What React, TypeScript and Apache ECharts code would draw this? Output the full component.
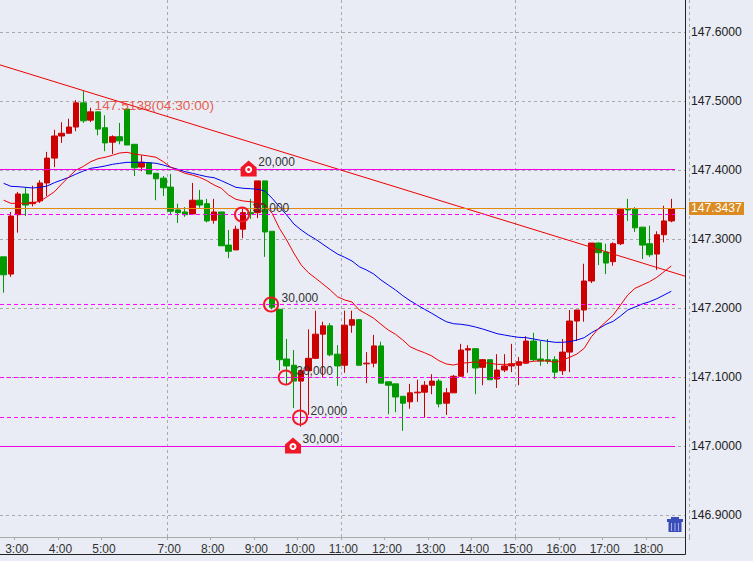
import React, { useEffect, useRef } from "react";
import * as echarts from "echarts";

const opens = [147.274,147.249,147.335,147.365,147.351,147.355,147.381,147.417,147.449,147.453,147.462,147.497,147.472,147.484,147.461,147.440,147.448,147.488,147.437,147.404,147.410,147.395,147.388,147.375,147.342,147.339,147.336,147.356,147.351,147.327,147.339,147.291,147.284,147.314,147.338,147.338,147.384,147.311,147.198,147.126,147.117,147.094,147.109,147.127,147.162,147.174,147.133,147.117,147.175,147.183,147.119,147.120,147.145,147.093,147.090,147.072,147.064,147.077,147.078,147.088,147.094,147.062,147.077,147.101,147.139,147.141,147.114,147.125,147.097,147.110,147.116,147.117,147.120,147.152,147.126,147.125,147.125,147.109,147.136,147.181,147.197,147.239,147.294,147.281,147.267,147.293,147.343,147.343,147.317,147.293,147.278,147.306,147.326];
const closes = [147.248,147.333,147.365,147.349,147.353,147.381,147.417,147.449,147.453,147.462,147.497,147.471,147.484,147.459,147.439,147.448,147.442,147.436,147.403,147.411,147.394,147.387,147.374,147.340,147.338,147.335,147.356,147.349,147.326,147.339,147.290,147.282,147.314,147.338,147.336,147.384,147.310,147.201,147.125,147.116,147.094,147.109,147.127,147.162,147.174,147.132,147.116,147.175,147.183,147.117,147.120,147.145,147.091,147.088,147.071,147.062,147.077,147.078,147.088,147.094,147.061,147.077,147.101,147.139,147.141,147.113,147.125,147.096,147.110,147.116,147.119,147.122,147.152,147.125,147.123,147.123,147.107,147.136,147.181,147.197,147.239,147.294,147.280,147.265,147.293,147.343,147.342,147.316,147.291,147.277,147.306,147.326,147.3437];
const lows = [147.222,147.245,147.309,147.333,147.347,147.352,147.362,147.404,147.439,147.453,147.456,147.468,147.469,147.450,147.427,147.423,147.437,147.436,147.391,147.398,147.394,147.356,147.362,147.335,147.323,147.332,147.336,147.345,147.324,147.322,147.290,147.272,147.284,147.301,147.329,147.330,147.274,147.198,147.109,147.088,147.055,147.028,147.045,147.126,147.100,147.130,147.087,147.106,147.164,147.116,147.091,147.114,147.091,147.046,147.049,147.022,147.054,147.064,147.041,147.075,147.056,147.045,147.077,147.101,147.106,147.075,147.088,147.096,147.084,147.107,147.107,147.088,147.119,147.123,147.116,147.119,147.097,147.103,147.107,147.152,147.180,147.236,147.262,147.249,147.261,147.291,147.326,147.310,147.271,147.274,147.255,147.295,147.324];
const highs = [147.274,147.339,147.368,147.375,147.377,147.385,147.426,147.458,147.469,147.474,147.501,147.514,147.490,147.484,147.479,147.450,147.468,147.488,147.437,147.421,147.410,147.395,147.391,147.394,147.351,147.346,147.381,147.371,147.358,147.358,147.339,147.313,147.319,147.345,147.358,147.384,147.384,147.311,147.198,147.155,147.139,147.109,147.169,147.196,147.180,147.178,147.146,147.196,147.196,147.184,147.136,147.161,147.151,147.093,147.090,147.072,147.090,147.096,147.094,147.104,147.097,147.084,147.103,147.148,147.146,147.141,147.126,147.125,147.133,147.133,147.148,147.129,147.159,147.164,147.152,147.155,147.130,147.155,147.197,147.197,147.264,147.294,147.295,147.293,147.295,147.345,147.358,147.346,147.317,147.319,147.311,147.348,147.358];

const maFast = [147.356,147.3515,147.3515,147.3515,147.3524,147.3544,147.3611,147.3683,147.3795,147.3901,147.3998,147.4051,147.4118,147.4161,147.4182,147.4211,147.4244,147.4254,147.4229,147.4215,147.42,147.4182,147.4118,147.4041,147.3993,147.395,147.3925,147.3892,147.3843,147.378,147.3733,147.3635,147.3573,147.3549,147.3538,147.3524,147.3491,147.337,147.3153,147.2984,147.2791,147.2622,147.251,147.2429,147.2346,147.226,147.2162,147.2115,147.2086,147.197,147.1912,147.185,147.1763,147.168,147.1618,147.1535,147.1438,147.139,147.1351,147.1304,147.1235,147.1188,147.1173,147.1198,147.1207,147.1217,147.1207,147.1198,147.1183,147.1183,147.1183,147.1198,147.1212,147.1227,147.1235,147.1231,147.1212,147.1246,147.1285,147.1333,147.1415,147.1583,147.1705,147.18,147.1897,147.2042,147.2187,147.2284,147.2332,147.238,147.2443,147.2525,147.2607];
const maSlow = [147.3805,147.3761,147.3756,147.3747,147.3737,147.3747,147.3766,147.3814,147.3853,147.3892,147.394,147.3983,147.4022,147.4037,147.4056,147.408,147.4095,147.4109,147.4109,147.4109,147.4104,147.4095,147.407,147.4037,147.4008,147.3973,147.395,147.3925,147.3901,147.3886,147.3843,147.3795,147.3747,147.3733,147.3727,147.3718,147.3693,147.3588,147.3466,147.3346,147.3215,147.3129,147.3056,147.2994,147.2921,147.2849,147.2781,147.2733,147.268,147.2597,147.2549,147.2491,147.2404,147.2332,147.226,147.2177,147.2105,147.2042,147.198,147.1922,147.1858,147.18,147.1771,147.1763,147.1748,147.1724,147.1695,147.1661,147.1627,147.1608,147.1589,147.1574,147.1569,147.155,147.1531,147.1516,147.1502,147.1502,147.1511,147.1535,147.1569,147.1641,147.1699,147.1763,147.1806,147.1883,147.197,147.2013,147.2057,147.209,147.2133,147.2187,147.2241];

const slotCount = 95;
const hourLabels = ["3:00","4:00","5:00","7:00","8:00","9:00","10:00","11:00","12:00","13:00","14:00","15:00","16:00","17:00","18:00"];
const hourSlots = [2,8,14,23,29,35,41,47,53,59,65,71,77,83,89];
const gridHours = ["7:00","11:00","15:00"];
const priceTicks = [146.9,147.0,147.1,147.2,147.3,147.4,147.5,147.6];

const solidLevels = [147.4005, 146.9993];
const dashedLevels = [147.3353, 147.205, 147.0992, 147.0413];
const lastPrice = 147.3437;
const lastPriceLine = 147.344;
const trendStart = 147.552;
const trendEnd = 147.246;
const levelEndSlot = 92.85;
const overlayMaxSlot = 94.22;

const circleMarks = [
  { slot: 33.29, price: 147.3353, label: "30,000" },
  { slot: 37.28, price: 147.205, label: "30,000" },
  { slot: 39.3, price: 147.0992, label: "30,000" },
  { slot: 41.27, price: 147.0413, label: "20,000" },
];
const houseMarks = [
  { slot: 34.2, price: 147.4005, label: "20,000" },
  { slot: 40.3, price: 146.9993, label: "30,000" },
];
const highNote = { slot: 13.0, price: 147.4939, text: "147.5138(04:30:00)" };

const BG = "#E9ECF4";
const RED = "#CC0000";
const GREEN = "#009900";
const MAGENTA = "#FF00FF";
const MAGENTA_SOLID = "#F000E8";
const MARK = "#F01828";
const FONT = "'Liberation Sans', Arial, sans-serif";
const YMIN = 146.8682;
const YMAX = 147.646;
const SLOT = 7.27;

const categories = Array.from({ length: slotCount }, (_, i) => {
  const k = hourSlots.indexOf(i);
  return k >= 0 ? hourLabels[k] : "";
});

const HOUSE = "path://M8,0 L16,7 L16,16 L0,16 L0,7 Z";

function buildOption(): any {
  const levelSeries = (price: number, color: string, type: any, width: number, end: number) => ({
    type: "line",
    xAxisIndex: 1,
    yAxisIndex: 1,
    data: [[0, price], [end, price]],
    showSymbol: false,
    silent: true,
    z: 4,
    lineStyle: { color, type, width },
  });
  return {
    animation: false,
    backgroundColor: BG,
    textStyle: { fontFamily: FONT },
    grid: [
      { left: -1.2, top: 0, width: slotCount * SLOT, height: 537 },
      { left: 0, top: 0, width: 685, height: 537 },
    ],
    xAxis: [
      {
        type: "category",
        gridIndex: 0,
        data: categories,
        axisLine: { show: false },
        axisTick: {
          show: true,
          length: 3,
          lineStyle: { color: "#AAAAAA" },
          interval: (_: number, v: string) => v !== "",
        },
        axisLabel: {
          interval: (_: number, v: string) => v !== "",
          color: "#333333",
          fontSize: 12,
          fontFamily: FONT,
          margin: 6,
          padding: [0, 2.6, 0, 0],
          hideOverlap: false,
        },
        splitLine: {
          show: true,
          interval: (_: number, v: string) => gridHours.includes(v),
          lineStyle: { color: "#AAAAAA", type: [3, 3], width: 1 },
        },
      },
      {
        type: "value",
        gridIndex: 1,
        min: 0,
        max: overlayMaxSlot,
        axisLine: { show: true, onZero: false, lineStyle: { color: "#AAAAAA" } },
        axisTick: { show: false },
        axisLabel: { show: false },
        splitLine: { show: false },
      },
    ],
    yAxis: [
      { type: "value", gridIndex: 0, min: YMIN, max: YMAX, show: false },
      {
        type: "value",
        gridIndex: 1,
        min: YMIN,
        max: YMAX,
        position: "right",
        axisLine: { show: false },
        axisTick: { show: false, customValues: priceTicks },
        axisLabel: {
          customValues: priceTicks,
          formatter: (v: number) => v.toFixed(4),
          color: "#222222",
          fontSize: 12.2,
          fontFamily: FONT,
          margin: 6,
        },
        splitLine: { show: true, lineStyle: { color: "#AAAAAA", type: [3, 3], width: 1 } },
      },
    ],
    series: [
      {
        type: "candlestick",
        xAxisIndex: 0,
        yAxisIndex: 0,
        barWidth: 6,
        z: 2,
        itemStyle: {
          color: RED,
          color0: GREEN,
          borderColor: RED,
          borderColor0: GREEN,
          borderWidth: 1,
        },
        data: opens.map((o, i) => [o, closes[i], lows[i], highs[i]]),
      },
      {
        type: "line",
        xAxisIndex: 0,
        yAxisIndex: 0,
        data: maSlow,
        showSymbol: false,
        z: 3,
        lineStyle: { color: "#0000EE", width: 1 },
      },
      {
        type: "line",
        xAxisIndex: 0,
        yAxisIndex: 0,
        data: maFast,
        showSymbol: false,
        z: 3,
        lineStyle: { color: "#EE0000", width: 1 },
      },
      {
        type: "line",
        xAxisIndex: 1,
        yAxisIndex: 1,
        data: [[0, trendStart], [overlayMaxSlot, trendEnd]],
        showSymbol: false,
        z: 4,
        lineStyle: { color: "#EE0000", width: 1 },
      },
      levelSeries(lastPriceLine, "#E08A10", "solid", 1, overlayMaxSlot),
      ...dashedLevels.map((p) => levelSeries(p, MAGENTA, [4, 3], 1, levelEndSlot)),
      levelSeries(solidLevels[0], MAGENTA_SOLID, "solid", 1, levelEndSlot),
      levelSeries(solidLevels[1], MAGENTA_SOLID, "solid", 1, levelEndSlot),
      {
        type: "scatter",
        xAxisIndex: 1,
        yAxisIndex: 1,
        z: 6,
        symbol: "circle",
        symbolSize: 14,
        itemStyle: { color: "rgba(0,0,0,0)", borderColor: MARK, borderWidth: 2, opacity: 1 },
        label: {
          show: true,
          position: "right",
          distance: 2.5,
          offset: [0, -6.6],
          color: "#333333",
          fontSize: 12,
          fontFamily: FONT,
          formatter: (p: any) => p.name,
        },
        data: circleMarks.map((m) => ({ value: [m.slot, m.price], name: m.label })),
      },
      {
        type: "scatter",
        xAxisIndex: 1,
        yAxisIndex: 1,
        z: 6,
        symbol: HOUSE,
        symbolKeepAspect: true,
        symbolSize: 16,
        symbolOffset: [0, -1],
        itemStyle: { color: MARK, opacity: 1 },
        label: {
          show: true,
          position: "right",
          distance: 1.6,
          offset: [0, -6.3],
          color: "#333333",
          fontSize: 12,
          fontFamily: FONT,
          formatter: (p: any) => p.name,
        },
        data: houseMarks.map((m) => ({ value: [m.slot, m.price], name: m.label })),
      },
      {
        type: "scatter",
        xAxisIndex: 1,
        yAxisIndex: 1,
        z: 7,
        symbol: "circle",
        symbolSize: 5,
        silent: true,
        itemStyle: { color: MARK, borderColor: "#FFFFFF", borderWidth: 2, opacity: 1 },
        data: houseMarks.map((m) => [m.slot, m.price]),
      },
      {
        type: "scatter",
        xAxisIndex: 1,
        yAxisIndex: 1,
        z: 8,
        symbolSize: 0,
        silent: true,
        label: {
          show: true,
          position: "right",
          distance: 0,
          color: "#E83820",
          fontSize: 13.7,
          fontFamily: FONT,
          formatter: () => highNote.text,
        },
        data: [[highNote.slot, highNote.price]],
      },
    ],
    graphic: [
      {
        type: "polyline",
        z: 20,
        silent: true,
        shape: { points: [[685.5, 0], [685.5, 554.5], [0, 554.5]] },
        style: { stroke: "#222222", lineWidth: 1, fill: "none" },
      },
      {
        type: "rect",
        z: 20,
        silent: true,
        shape: { x: 689, y: 202, width: 55, height: 13 },
        style: { fill: "#DB8B20" },
      },
      {
        type: "text",
        z: 21,
        silent: true,
        x: 691,
        y: 202,
        style: { text: lastPrice.toFixed(4), fill: "#FFFFFF", font: `12.2px ${FONT}` },
      },
      {
        type: "group",
        z: 20,
        silent: true,
        children: [
          { type: "rect", shape: { x: 671, y: 517, width: 8, height: 2 }, style: { fill: "#3A4DB8" } },
          { type: "rect", shape: { x: 667, y: 519, width: 16, height: 3 }, style: { fill: "#3A4DB8" } },
          { type: "rect", shape: { x: 668.5, y: 522, width: 13, height: 10 }, style: { fill: "#3A4DB8" } },
          { type: "rect", shape: { x: 671, y: 523, width: 1, height: 8 }, style: { fill: "#A8B2E6" } },
          { type: "rect", shape: { x: 674.5, y: 523, width: 1, height: 8 }, style: { fill: "#A8B2E6" } },
          { type: "rect", shape: { x: 678, y: 523, width: 1, height: 8 }, style: { fill: "#A8B2E6" } },
        ],
      },
    ],
  };
}

export default function App() {
  const ref = useRef<HTMLDivElement>(null);
  useEffect(() => {
    document.body.style.margin = "0";
    document.body.style.background = BG;
    const chart = echarts.init(ref.current!, null, { renderer: "svg" });
    chart.setOption(buildOption());
    return () => chart.dispose();
  }, []);
  return <div ref={ref} style={{ width: 753, height: 561 }} />;
}
